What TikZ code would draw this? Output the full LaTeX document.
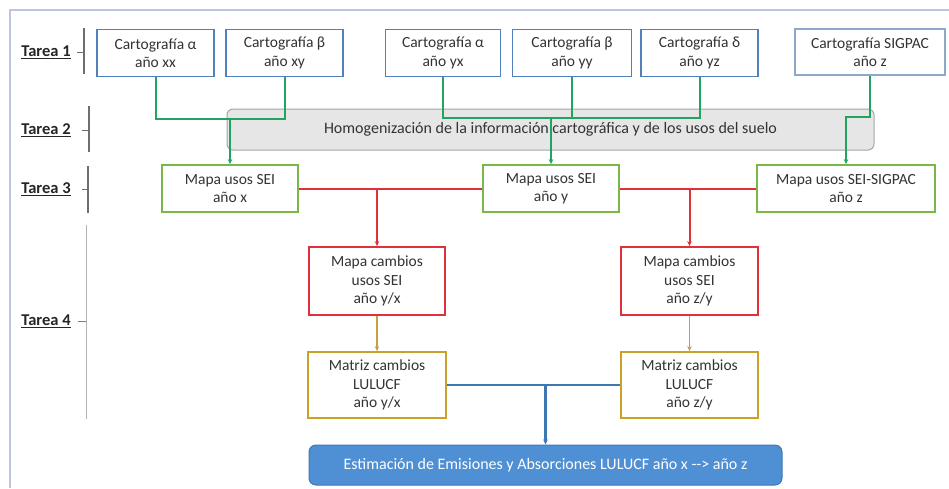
\documentclass[tikz,border=0pt]{standalone}
\usepackage{fontspec}
\setmainfont{Carlito}
\usetikzlibrary{arrows.meta}
\definecolor{cartblue}{HTML}{4F81BD}
\definecolor{sigblue}{HTML}{8EA9C8}
\definecolor{grn}{HTML}{22A35E}
\definecolor{boxgrn}{HTML}{7AB648}
\definecolor{rd}{HTML}{E0303A}
\definecolor{gold}{HTML}{C9A227}
\definecolor{goldline}{HTML}{C8A040}
\definecolor{bl}{HTML}{3E78B2}
\definecolor{blfill}{HTML}{4F8FD3}
\definecolor{grayfill}{HTML}{E6E6E6}
\definecolor{grayedge}{HTML}{A6A6A6}
\definecolor{framec}{HTML}{BCC6DE}
\definecolor{brk}{HTML}{6E6E6E}
\tikzset{
  x=1pt,y=-1pt,
  txt/.style={font=\fontsize{15.5}{18.5}\selectfont,align=center,inner sep=0pt,text=black!80},
  cartbox/.style={txt,draw=cartblue,line width=1.8pt,minimum width=117pt,minimum height=47pt},
  sigbox/.style={txt,draw=sigblue,line width=1.5pt,minimum width=150pt,minimum height=46pt},
  homobox/.style={txt,font=\fontsize{16}{18}\selectfont,draw=grayedge,fill=grayfill,line width=1pt,rounded corners=6pt,minimum width=647pt,minimum height=41pt},
  mapbox/.style={txt,draw=boxgrn,line width=1.8pt,minimum width=136pt,minimum height=47pt},
  chgbox/.style={txt,draw=rd,line width=1.8pt,minimum width=136pt,minimum height=68pt},
  matbox/.style={txt,draw=gold,line width=1.8pt,minimum width=138pt,minimum height=66pt},
  estbox/.style={txt,font=\fontsize{16}{18}\selectfont,text=white,draw=bl,fill=blfill,line width=1pt,rounded corners=7pt,minimum width=473pt,minimum height=40pt},
  tarea/.style={font=\bfseries\fontsize{16.5}{18}\selectfont,inner sep=0pt,text=black!85},
  arr/.style={-{Stealth[length=5pt,width=4.5pt]}},
  gline/.style={draw=grn,line width=2pt},
  rline/.style={draw=rd,line width=2pt},
  yline/.style={draw=goldline,line width=1.5pt},
  bline/.style={draw=bl,line width=2.3pt},
  brkline/.style={draw=brk,line width=1.8pt},
}
\begin{document}
\begin{tikzpicture}
\useasboundingbox (0,0) rectangle (949,488);
\fill[white] (0,0) rectangle (949,488);
% frame
\draw[framec,line width=2pt] (10,488) -- (10,10) -- (949,10);

% Tarea labels and brackets
\node[tarea] (t1) at (46,52) {\underline{Tarea 1}};
\node[tarea] (t2) at (46,130) {\underline{Tarea 2}};
\node[tarea] (t3) at (46,189) {\underline{Tarea 3}};
\node[tarea] (t4) at (46,321) {\underline{Tarea 4}};
\draw[brkline] (84,28) -- (84,74);
\draw[brk,line width=0.7pt] (77,52) -- (84,52);
\draw[brkline] (89,106) -- (89,152);
\draw[brk,line width=0.7pt] (82,130) -- (89,130);
\draw[brkline] (88,166) -- (88,213);
\draw[brk,line width=0.7pt] (82,189) -- (88,189);
\draw[black!30,line width=1pt] (86,225) -- (86,419);
\draw[black!50,line width=1pt] (78,321) -- (86,321);

% Tarea 1 boxes
\node[cartbox] (B1) at (155.5,53) {Cartografía α\\año xx};
\node[cartbox] (B2) at (284.5,53) {Cartografía β\\año xy};
\node[cartbox,minimum width=115pt] (B3) at (443,53) {Cartografía α\\año yx};
\node[cartbox,minimum width=119pt] (B4) at (572,53) {Cartografía β\\año yy};
\node[cartbox] (B5) at (699.5,53) {Cartografía δ\\año yz};
\node[sigbox] (B6) at (870,52) {Cartografía SIGPAC\\año z};

% Tarea 2
\node[homobox] (H) at (550.5,129.5) {Homogenización de la información cartográfica y de los usos del suelo};

% Tarea 3
\node[mapbox] (M1) at (230,188.5) {Mapa usos SEI\\año x};
\node[mapbox] (M2) at (551,188.5) {Mapa usos SEI\\año y};
\node[mapbox,minimum width=178pt] (M3) at (846,188.5) {Mapa usos SEI-SIGPAC\\año z};

% Tarea 4
\node[chgbox] (R1) at (377,281) {Mapa cambios\\usos SEI\\año y/x};
\node[chgbox,minimum width=137pt] (R2) at (689.5,281) {Mapa cambios\\usos SEI\\año z/y};
\node[matbox] (Y1) at (377,385) {Matriz cambios\\LULUCF\\año y/x};
\node[matbox,minimum width=137pt] (Y2) at (689.5,385) {Matriz cambios\\LULUCF\\año z/y};
\node[estbox] (E) at (545.5,465) {Estimación de Emisiones y Absorciones LULUCF año x -{}-> año z};

% green connectors
\coordinate (g1) at (230,119);
\coordinate (g2) at (551,118);
\coordinate (g3) at (846,117);
\draw[gline] (B1.south) |- (g1) -| (B2.south);
\draw[gline,arr] (g1) -- (M1.north);
\draw[gline] (B3.south) |- (g2) -| (B5.south);
\draw[gline] (B4.south) -- (B4.south |- g2);
\draw[gline,arr] (g2) -- (M2.north);
\draw[gline,arr] (B6.south) |- (g3) -- (M3.north);

% red connectors
\coordinate (r1) at (R1.north |- M1.east);
\coordinate (r2) at (R2.north |- M2.east);
\draw[rline] (M1.east) -- (M2.west);
\draw[rline] (M2.east) -- (M3.west);
\draw[rline,arr] (r1) -- (R1.north);
\draw[rline,arr] (r2) -- (R2.north);

% yellow connectors
\draw[yline,arr] (R1.south) -- (Y1.north);
\draw[yline,arr] (R2.south) -- (Y2.north);

% blue connectors
\coordinate (b1) at (E.north |- Y1.east);
\draw[bline] (Y1.east) -- (Y2.west);
\draw[bline,arr] (b1) -- (E.north);
\end{tikzpicture}
\end{document}
